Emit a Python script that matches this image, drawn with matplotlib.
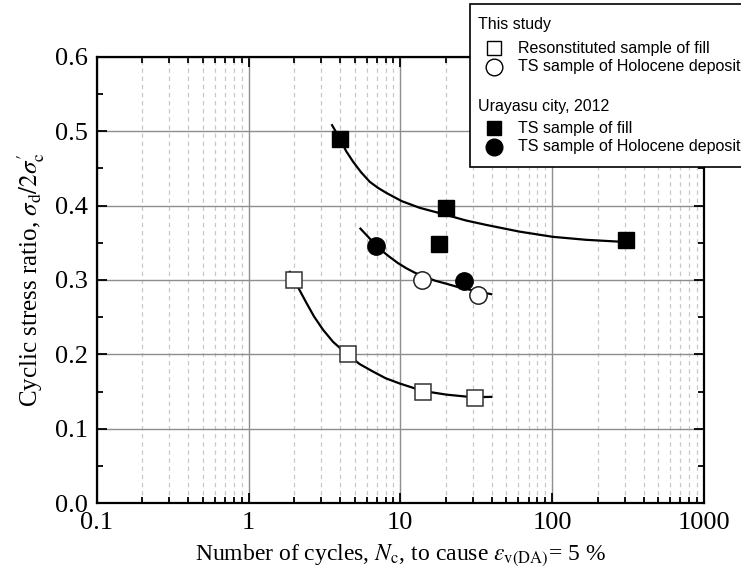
import numpy as np               # numpy for arrays
import matplotlib
matplotlib.use('Agg')
import matplotlib.pyplot as plt  # matplotlib for plotting
from matplotlib.patches import Rectangle
from matplotlib.lines import Line2D
from matplotlib.ticker import FixedLocator, MultipleLocator, FuncFormatter

plt.rc('font', family='serif', serif=['Liberation Serif', 'DejaVu Serif'])
plt.rc('mathtext', fontset='stix')

# ---- data ----
# this study, reconstituted sample of fill (open squares)
recon_n = [2.0, 4.5, 14.0, 31.0]
recon_csr = [0.300, 0.200, 0.150, 0.141]

# this study, TS sample of Holocene deposit (open circles)
holo_n = [13.9, 32.7]
holo_csr = [0.300, 0.280]

# Urayasu city 2012, TS sample of fill (filled squares)
ura_fill_n = [4.0, 19.9, 17.9, 307.0]
ura_fill_csr = [0.490, 0.397, 0.349, 0.354]

# Urayasu city 2012, TS sample of Holocene deposit (filled circles)
ura_holo_n = [6.95, 26.2]
ura_holo_csr = [0.346, 0.299]

# trend curves
curve_fill_n = [3.55, 3.99, 4.4, 4.88, 5.5, 6.28, 7.1, 8.09, 10.2, 13.4,
                19.6, 27.0, 36.8, 60.9, 101.0, 167.0, 307.0]
curve_fill_csr = [0.508, 0.490, 0.473, 0.459, 0.445, 0.432, 0.424, 0.417,
                  0.406, 0.397, 0.388, 0.380, 0.374, 0.365, 0.358, 0.354,
                  0.351]

curve_holo_n = [5.46, 6.2, 6.95, 7.7, 8.5, 9.6, 10.9, 12.4, 14.1, 17.0,
                20.1, 23.5, 27.2, 33.0, 39.7]
curve_holo_csr = [0.369, 0.357, 0.346, 0.338, 0.331, 0.323, 0.316, 0.310,
                  0.305, 0.299, 0.295, 0.291, 0.288, 0.284, 0.281]

curve_recon_n = [1.87, 2.0, 2.2, 2.41, 2.7, 3.10, 3.6, 4.41, 5.4, 6.6,
                 8.0, 9.89, 14.0, 20.1, 30.0, 39.7]
curve_recon_csr = [0.311, 0.300, 0.284, 0.269, 0.251, 0.233, 0.217, 0.201,
                   0.187, 0.177, 0.168, 0.161, 0.151, 0.146, 0.1425, 0.143]

x_ticks = [0.1, 1, 10, 100, 1000]
y_ticks = [0.0, 0.1, 0.2, 0.3, 0.4, 0.5, 0.6]

W, H = 741, 584


def px(x, y):
    """figure fraction from pixel coordinates (origin top-left)"""
    return x / W, 1.0 - y / H


def main():
    fig = plt.figure(figsize=(W / 100, H / 100), dpi=100)
    ax = fig.add_axes([96.7 / W, 1 - 503.3 / H, (704 - 96.7) / W,
                       (503.3 - 56.7) / H])

    ax.set_xscale('log')
    ax.set_xlim(0.1, 1000)
    ax.set_ylim(0.0, 0.6)

    # grid: solid at decades / 0.1 steps, dashed at minor decades
    ax.grid(True, which='major', color='#8e8e8e', lw=1.0, ls='-')
    ax.grid(True, which='minor', axis='x', color='#c8c8c8', lw=0.9,
            ls=(0, (3.5, 3)))
    ax.set_axisbelow(True)

    # trend curves
    for cn, cc in [(curve_fill_n, curve_fill_csr),
                   (curve_holo_n, curve_holo_csr),
                   (curve_recon_n, curve_recon_csr)]:
        ax.plot(cn, cc, color='black', lw=1.6, zorder=3,
                solid_joinstyle='round')

    # markers
    ax.plot(recon_n, recon_csr, 's', ms=11.5, mfc='white', mec='#333333',
            mew=1.1, zorder=4)
    ax.plot(holo_n, holo_csr, 'o', ms=12.5, mfc='white', mec='#222222',
            mew=1.1, zorder=4)
    ax.plot(ura_fill_n, ura_fill_csr, 's', ms=11.5, mfc='black', mec='black',
            zorder=4)
    ax.plot(ura_holo_n, ura_holo_csr, 'o', ms=12.5, mfc='black', mec='black',
            zorder=4)

    # ticks
    ax.xaxis.set_major_locator(FixedLocator(x_ticks))
    ax.xaxis.set_major_formatter(FuncFormatter(lambda v, p: '%g' % v))
    ax.yaxis.set_major_locator(FixedLocator(y_ticks))
    ax.yaxis.set_minor_locator(MultipleLocator(0.05))
    ax.yaxis.set_major_formatter(FuncFormatter(lambda v, p: '%.1f' % v))
    ax.tick_params(which='both', direction='in', top=True, right=True,
                   labelsize=19, width=1.3)
    ax.tick_params(which='major', length=7, pad=6)
    ax.tick_params(which='minor', length=4)
    for s in ax.spines.values():
        s.set_linewidth(1.6)

    ax.set_xlabel(r"Number of cycles, $N_\mathrm{c}$, to cause "
                  r"$\varepsilon_\mathrm{v(DA)}$= 5 %", fontsize=17,
                  labelpad=6)
    ax.set_ylabel(r"Cyclic stress ratio, $\sigma_\mathrm{d}/2\sigma_\mathrm{c}'$",
                  fontsize=18, labelpad=6)

    # ---- hand-made legend box in figure pixels ----
    x0, y0 = px(470, 167)
    x1, y1 = px(760, 4)
    fig.patches.append(Rectangle((x0, y0), x1 - x0, y1 - y0,
                                 transform=fig.transFigure, fc='white',
                                 ec='black', lw=1.2, zorder=10))
    sans = ['Liberation Sans', 'DejaVu Sans']
    entries = [
        (25, None, 'This study'),
        (48, ('s', 'white'), 'Resonstituted sample of fill'),
        (67, ('o', 'white'), 'TS sample of Holocene deposit'),
        (107, None, 'Urayasu city, 2012'),
        (128, ('s', 'black'), 'TS sample of fill'),
        (147, ('o', 'black'), 'TS sample of Holocene deposit'),
    ]
    for yy, mk, label in entries:
        if mk is None:
            tx, ty = px(478, yy)
        else:
            mx, my = px(494, yy)
            m = Line2D([mx], [my], marker=mk[0], ms=10.5 if mk[0] == 's' else 12,
                       mfc=mk[1], mec='black', mew=1.0, ls='none',
                       transform=fig.transFigure, zorder=11)
            fig.lines.append(m)
            tx, ty = px(518, yy)
        fig.text(tx, ty, label, family=sans, fontsize=11.5, va='center',
                 ha='left', zorder=11)

    fig.savefig('out.png', dpi=100)
    plt.close('all')


if __name__ == '__main__':
    main()
